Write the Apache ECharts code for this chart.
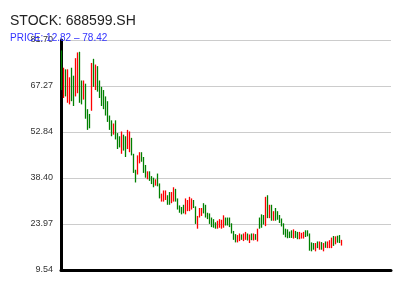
<!DOCTYPE html>
<html>
<head>
<meta charset="utf-8">
<script src="https://cdn.jsdelivr.net/npm/echarts@6/dist/echarts.min.js"></script>
<style>html,body{margin:0;padding:0;background:#fff}#c{width:400px;height:300px}</style>
</head>
<body>
<div id="c"></div>
<script>
const titleText = 'STOCK: 688599.SH';
const subText = 'PRICE: 12.82 – 78.42';
const yMin = 9.54;
const yMax = 81.70;
const yTicks = ['9.54', '23.97', '38.40', '52.84', '67.27', '81.70'];
const totalSlots = 165;

const opens = [78.0,65.0,71.0,64.0,62.5,72.0,69.5,65.0,66.0,77.5,68.0,64.0,67.0,59.0,57.5,60.5,75.0,67.0,72.5,68.0,
66.0,65.0,63.5,62.0,57.0,56.0,52.5,56.0,52.0,51.0,46.5,51.5,51.0,48.0,47.0,50.5,45.5,40.5,40.0,43.5,
46.0,44.5,42.0,38.5,40.0,38.5,38.0,36.5,39.3,36.2,31.5,31.5,32.0,32.5,33.5,31.0,31.5,34.5,31.5,29.3,
28.8,29.5,27.5,28.5,28.5,29.0,31.0,29.0,23.0,26.5,27.0,30.0,29.5,27.0,26.8,25.5,25.0,24.0,23.0,23.3,
23.0,23.3,25.5,25.5,25.5,23.7,21.3,20.3,18.6,19.0,20.2,19.0,19.3,20.6,18.5,20.5,19.2,20.3,18.8,25.5,
26.5,26.3,23.7,32.5,26.3,29.5,25.5,28.5,27.5,26.3,25.2,23.7,22.0,21.8,21.1,21.5,19.8,21.3,21.0,19.6,
19.8,19.8,21.5,21.6,20.5,17.8,17.5,15.8,18.0,16.3,17.8,15.8,18.0,16.8,16.8,16.8,19.8,18.0,19.8,20.0,17.6];
const closes = [67.5,72.0,65.5,71.5,68.5,64.0,62.5,75.0,77.0,63.5,62.5,68.0,58.0,54.5,55.0,73.5,68.0,73.0,66.5,64.5,
62.0,61.0,59.0,57.0,54.0,52.0,55.0,51.0,48.0,48.5,52.5,47.5,45.5,53.0,52.5,46.0,40.5,37.5,45.0,46.0,
44.0,40.5,39.0,40.0,38.0,37.0,36.0,37.5,36.2,32.5,33.0,34.0,34.0,30.5,30.5,33.5,35.0,31.5,29.0,28.0,
27.5,27.8,31.5,31.0,32.0,31.5,29.5,24.5,26.0,28.5,28.5,27.8,26.5,26.0,24.6,23.5,23.3,23.0,24.5,25.0,
24.8,26.2,24.0,24.0,23.5,21.5,19.5,18.6,20.0,20.5,19.5,20.5,21.0,19.2,20.2,19.3,20.6,19.5,22.0,23.0,
23.3,24.3,32.0,26.3,29.5,25.5,27.5,25.5,25.8,24.8,23.7,21.1,20.2,20.0,20.1,20.0,21.8,20.0,19.6,21.0,
20.8,21.0,20.3,20.5,16.0,15.8,16.3,17.5,16.8,18.0,16.3,17.5,16.9,18.0,18.4,19.2,17.5,19.6,18.5,18.4,18.6];
const lows = [66.0,63.5,64.0,62.0,61.5,62.5,61.0,64.0,65.0,62.0,61.5,63.0,57.0,53.5,54.0,59.5,67.0,66.0,65.5,63.5,
61.0,60.0,58.0,56.0,53.5,51.5,52.0,50.5,47.5,48.0,46.0,47.0,45.0,47.5,46.5,45.5,40.0,37.0,39.5,43.0,
43.5,40.0,38.5,38.0,37.5,36.5,35.5,36.0,35.8,32.0,31.0,31.0,31.5,30.0,30.0,30.5,31.0,31.0,28.5,27.5,
27.0,27.3,27.0,28.0,28.0,28.5,29.0,24.0,22.5,26.0,26.5,27.3,26.0,25.5,24.0,23.0,22.8,22.5,22.5,22.8,
22.5,22.8,23.5,23.5,23.0,21.0,19.0,18.2,18.2,18.6,19.0,18.6,19.0,18.8,18.0,18.9,18.8,19.0,18.5,22.5,
22.8,23.8,23.3,25.8,25.8,25.0,25.0,25.0,25.3,24.3,23.2,20.6,19.8,19.5,19.6,19.6,19.4,19.6,19.2,19.2,
19.4,19.4,19.9,20.1,15.6,15.4,15.9,15.4,16.4,15.9,15.9,15.4,16.5,16.4,16.4,16.4,17.1,17.6,18.1,18.0,17.2];
const highs = [78.42,73.0,72.5,72.5,70.0,73.0,70.5,76.0,77.8,78.0,69.0,69.0,68.0,60.0,58.5,74.5,75.8,74.0,73.5,69.0,
67.0,66.0,64.0,62.5,58.0,56.5,55.5,56.5,52.5,51.5,53.0,52.0,51.5,53.5,53.0,51.0,46.0,41.0,45.5,46.5,
46.5,45.0,42.5,40.5,40.5,39.0,38.5,38.0,39.8,36.7,33.5,34.5,34.5,33.0,34.0,34.0,35.5,35.0,32.0,29.8,
29.3,30.0,32.0,31.5,32.5,32.0,31.5,29.5,26.5,29.0,29.0,30.5,30.0,27.5,27.3,26.0,25.5,24.5,25.0,25.5,
25.3,26.7,26.0,26.0,26.0,24.2,21.8,20.8,20.5,21.0,20.7,21.0,21.5,21.0,20.7,21.0,21.0,20.8,22.5,26.0,
27.0,26.8,32.5,33.0,30.0,30.0,28.0,29.0,28.0,26.8,25.7,24.2,22.5,22.3,21.6,22.0,22.3,21.8,21.5,21.5,
21.2,21.5,22.0,22.0,21.0,18.2,18.0,18.0,18.5,18.5,18.3,18.0,18.5,18.5,18.9,19.7,20.2,20.1,20.3,20.5,19.0];

const categories = [];
for (let i = 0; i < totalSlots; i++) categories.push(String(i + 1));
const candles = opens.map((o, i) => [o, closes[i], lows[i], highs[i]]);

const chart = echarts.init(document.getElementById('c'), null, {renderer: 'canvas'});
chart.setOption({
  animation: false,
  backgroundColor: '#ffffff',
  title: [
    {text: titleText, left: 5, top: 9, textStyle: {fontSize: 14, fontWeight: 'normal', color: '#222', fontFamily: 'Liberation Sans'}},
    {text: subText, left: 5, top: 28, textStyle: {fontSize: 10, fontWeight: 'normal', color: '#3333ff', fontFamily: 'Liberation Sans'}}
  ],
  grid: {left: 61, right: 9, top: 40, bottom: 30, containLabel: false},
  xAxis: {
    type: 'category', data: categories, boundaryGap: true,
    axisLine: {lineStyle: {color: '#000', width: 3}},
    axisTick: {show: false}, axisLabel: {show: false}, splitLine: {show: false}
  },
  yAxis: {
    type: 'value', min: yMin, max: yMax, interval: 14.432,
    axisLine: {show: true, lineStyle: {color: '#000', width: 3}},
    axisTick: {show: false},
    axisLabel: {color: '#333', fontSize: 9, fontFamily: 'Liberation Sans', margin: 8,
      formatter: function (v) { return v.toFixed(2); }},
    splitLine: {show: true, lineStyle: {color: '#cccccc', width: 1}}
  },
  series: [{
    type: 'candlestick', data: candles, barWidth: 1,
    itemStyle: {color: '#ff0000', color0: '#008000', borderColor: '#ff0000', borderColor0: '#008000', borderWidth: 1.3}
  }]
});
</script>
</body>
</html>
